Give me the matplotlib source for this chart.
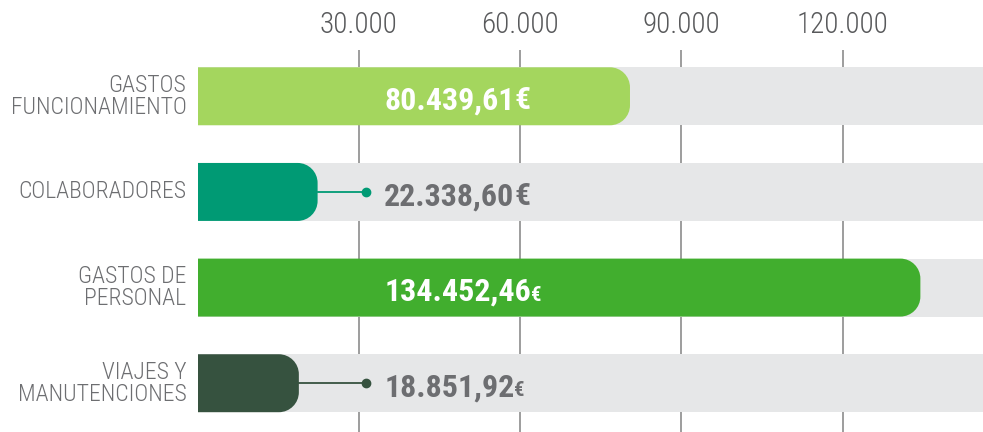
import matplotlib
matplotlib.use("Agg")
import matplotlib.pyplot as plt
from matplotlib.path import Path
from matplotlib.patches import PathPatch
from matplotlib import font_manager

# ---------------- data ----------------
categories = ["GASTOS\nFUNCIONAMIENTO", "COLABORADORES", "GASTOS DE\nPERSONAL", "VIAJES Y\nMANUTENCIONES"]
values = [80439.61, 22338.60, 134452.46, 18851.92]
value_numbers = ["80.439,61", "22.338,60", "134.452,46", "18.851,92"]
euro_small = [False, False, True, True]
label_inside = [True, False, True, False]
bar_colors = ["#a4d65e", "#009a74", "#41ae2e", "#36523f"]
xticks = [30000, 60000, 90000, 120000]
xtick_labels = ["30.000", "60.000", "90.000", "120.000"]

# ---------------- style ----------------
def pick(fams):
    avail = {f.name for f in font_manager.fontManager.ttflist}
    for f in fams:
        if f in avail:
            return f
    return "DejaVu Sans"

FONT = pick(["Liberation Sans Narrow", "Roboto Condensed", "Open Sans Condensed", "Liberation Sans"])
plt.rcParams["font.family"] = [FONT, "DejaVu Sans"]

TEXT_GRAY = "#6d6e71"
BG_GRAY = "#e6e7e8"
GRID_GRAY = "#8c8c8c"
XMAX = 146100
BAR_H = 0.606
DOT_X = 31400
LABEL_X = 34700

fig = plt.figure(figsize=(9.83, 4.32), dpi=100)
ax = fig.add_axes([197.5 / 983, 0.0, 1 - 197.5 / 983, 1 - 50 / 432])
ax.set_xlim(0, XMAX)
ax.set_ylim(3.51, -0.484)
for s in ax.spines.values():
    s.set_visible(False)

# pixel -> data scales for rounded corners
ax_w_px = fig.bbox.width * ax.get_position().width
ax_h_px = fig.bbox.height * ax.get_position().height
rx = 20 * XMAX / ax_w_px
ry = 20 * (3.51 + 0.484) / ax_h_px


def right_rounded(x0, x1, yc, h, rx, ry):
    k = 0.5523
    y0, y1 = yc - h / 2, yc + h / 2
    rx = min(rx, (x1 - x0))
    verts = [
        (x0, y0),
        (x1 - rx, y0),
        (x1 - rx + k * rx, y0), (x1, y0 + ry - k * ry), (x1, y0 + ry),
        (x1, y1 - ry),
        (x1, y1 - ry + k * ry), (x1 - rx + k * rx, y1), (x1 - rx, y1),
        (x0, y1),
        (x0, y0),
    ]
    codes = [Path.MOVETO, Path.LINETO,
             Path.CURVE4, Path.CURVE4, Path.CURVE4,
             Path.LINETO,
             Path.CURVE4, Path.CURVE4, Path.CURVE4,
             Path.LINETO, Path.CLOSEPOLY]
    return Path(verts, codes)


# grid
for xt in xticks:
    ax.axvline(xt, color=GRID_GRAY, lw=1.2, zorder=0)

ys = list(range(len(categories)))
# background bands
ax.barh(ys, [XMAX] * len(ys), height=BAR_H, left=0, color=BG_GRAY, zorder=1)

for i, (v, c) in enumerate(zip(values, bar_colors)):
    p = right_rounded(0, v, i, BAR_H, rx, ry)
    ax.add_patch(PathPatch(p, facecolor=c, edgecolor="none", zorder=2))
    if label_inside[i]:
        col = "white"
    else:
        col = TEXT_GRAY
        ax.plot([v, DOT_X], [i, i], color=c, lw=1.3, zorder=3)
        ax.plot([DOT_X], [i], marker="o", ms=6, color=c, zorder=3)
    t = ax.annotate(value_numbers[i], xy=(LABEL_X, i), xytext=(0, -9.5), textcoords="offset points",
                    ha="left", va="baseline", fontsize=23, fontweight="bold", color=col, zorder=4)
    ax.annotate("€", xy=(1, i), xycoords=(t, "data"), xytext=(0, -9.5), textcoords="offset points",
                ha="left", va="baseline", fontsize=15 if euro_small[i] else 23,
                fontweight="bold", color=col, zorder=4)

# x ticks on top
ax.xaxis.tick_top()
ax.set_xticks(xticks)
ax.set_xticklabels(xtick_labels, fontsize=21, color="#58595b", fontweight="light")
ax.tick_params(axis="x", length=0, pad=8)

# category labels
ax.set_yticks(ys)
ax.set_yticklabels(categories, fontsize=17, color=TEXT_GRAY, linespacing=0.95, ha="right",
                   va="center", fontweight="light")
ax.tick_params(axis="y", length=0, pad=8)

fig.savefig("out.png", dpi=100)
